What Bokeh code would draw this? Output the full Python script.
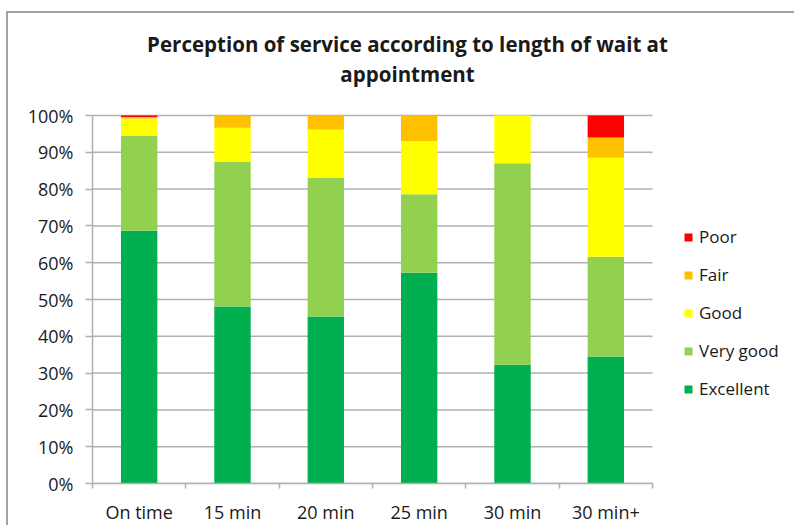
from bokeh.plotting import figure
from bokeh.models import (Range1d, FixedTicker, NumeralTickFormatter, Legend, LegendItem,
                          Label, ColumnDataSource)
from bokeh.embed import file_html
from bokeh.resources import INLINE

categories = ["On time", "15 min", "20 min", "25 min", "30 min", "30 min+"]
ratings = ["Excellent", "Very good", "Good", "Fair", "Poor"]
excellent = [0.687, 0.481, 0.454, 0.573, 0.323, 0.345]
very_good = [0.257, 0.393, 0.377, 0.213, 0.547, 0.271]
good = [0.048, 0.093, 0.131, 0.144, 0.130, 0.269]
fair = [0.004, 0.033, 0.038, 0.070, 0.000, 0.055]
poor = [0.004, 0.000, 0.000, 0.000, 0.000, 0.060]
colors = ["#00B050", "#92D050", "#FFFF00", "#FFC000", "#FF0000"]
y_ticks = [i / 10 for i in range(11)]
title_lines = ["Perception of service according to length of wait at", "appointment"]

FONT = "Open Sans"
GRID = "#b0b0b0"
TXT = "#1a1a1a"

n = len(categories)
xpos = list(range(n))
source = ColumnDataSource(dict(x=xpos, Excellent=excellent, **{"Very good": very_good},
                               Good=good, Fair=fair, Poor=poor))

# the chart's plot area is x in [-0.5, n-0.5], y in [0, 1];
# the frame is extended right/up so legend and title (drawn inside the frame) are not clipped
PX_PER_X = 560 / n
PX_PER_Y = 368
x_end = -0.5 + 696 / PX_PER_X
y_end = 467 / PX_PER_Y

p = figure(width=788, height=514, output_backend="svg", toolbar_location=None,
           x_range=Range1d(-0.5, x_end), y_range=Range1d(0, y_end),
           min_border_left=84, min_border_right=8, min_border_top=3, min_border_bottom=44)
p.styles = {"margin-left": "6px", "margin-top": "11px",
            "border-left": "2px solid #a3a3a3", "border-top": "2px solid #a3a3a3"}

p.outline_line_color = None
p.xgrid.grid_line_color = None
p.ygrid.grid_line_color = None

# horizontal gridlines across the category span only
p.segment(x0=[-0.5] * len(y_ticks), x1=[n - 0.5] * len(y_ticks), y0=y_ticks, y1=y_ticks,
          line_color=GRID, line_width=1.5)

renderers = p.vbar_stack(ratings, x="x", width=0.39, color=colors, source=source, line_width=0)

p.yaxis.bounds = (0, 1)
p.yaxis.ticker = FixedTicker(ticks=y_ticks)
p.yaxis.formatter = NumeralTickFormatter(format="0%")
p.yaxis.axis_line_color = GRID
p.yaxis.axis_line_width = 1.5
p.yaxis.major_tick_line_color = GRID
p.yaxis.major_tick_line_width = 1.5
p.yaxis.major_tick_out = 7
p.yaxis.major_tick_in = 0
p.yaxis.minor_tick_line_color = None
p.yaxis.major_label_standoff = 12
p.yaxis.major_label_text_font = FONT
p.yaxis.major_label_text_font_size = "18px"
p.yaxis.major_label_text_color = TXT

p.xaxis.bounds = (-0.5, n - 0.5)
p.xaxis.ticker = FixedTicker(ticks=xpos, minor_ticks=[i - 0.5 for i in range(n + 1)])
p.xaxis.major_label_overrides = {i: c for i, c in enumerate(categories)}
p.xaxis.axis_line_color = GRID
p.xaxis.axis_line_width = 1.5
p.xaxis.major_tick_line_color = None
p.xaxis.minor_tick_line_color = GRID
p.xaxis.minor_tick_line_width = 1.5
p.xaxis.minor_tick_out = 5
p.xaxis.minor_tick_in = 0
p.xaxis.major_label_standoff = 10
p.xaxis.major_label_text_font = FONT
p.xaxis.major_label_text_font_size = "18px"
p.xaxis.major_label_text_color = TXT

items = [LegendItem(label=r, renderers=[rend]) for r, rend in zip(ratings, renderers)][::-1]
legend = Legend(items=items, location=(591, 83), padding=0, margin=0, spacing=15,
                glyph_width=10, glyph_height=10, label_height=20, label_standoff=6,
                border_line_color=None, background_fill_alpha=0,
                label_text_font=FONT, label_text_font_size="17px", label_text_color=TXT)
p.add_layout(legend, "center")

title_x = -0.5 + 315 / PX_PER_X
for line, yy in zip(title_lines, [1 + 72 / PX_PER_Y, 1 + 42 / PX_PER_Y]):
    p.add_layout(Label(x=title_x, y=yy, text=line, text_align="center", text_baseline="middle",
                       text_font=FONT, text_font_size="20.5px", text_font_style="bold",
                       text_color=TXT))

open("out.html", "w").write(file_html(p, INLINE))
